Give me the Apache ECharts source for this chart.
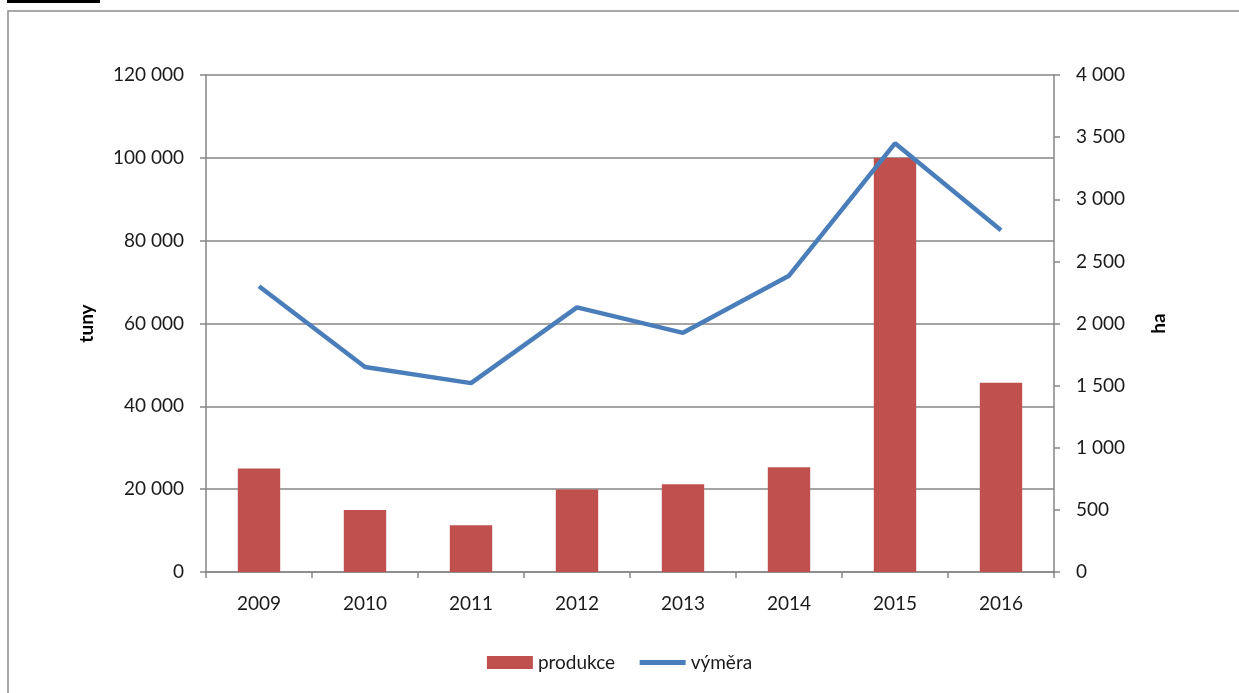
<!DOCTYPE html>
<html>
<head>
<meta charset="utf-8">
<script src="https://cdn.jsdelivr.net/npm/echarts@6/dist/echarts.min.js"></script>
<style>
  html, body { margin: 0; padding: 0; background: #fff; }
  #chart { width: 1239px; height: 693px; }
</style>
</head>
<body>
<div id="chart"></div>
<script>
// data
const years = ['2009', '2010', '2011', '2012', '2013', '2014', '2015', '2016']
const produkce = [25000, 15000, 11300, 19900, 21200, 25300, 100000, 45700]   // tuny
const vymera = [2300, 1650, 1520, 2130, 1925, 2385, 3450, 2750]             // ha

const fmt = v => String(v).replace(/\B(?=(\d{3})+(?!\d))/g, ' ')
const font = 'Lato, "Open Sans", sans-serif'
const gray = '#868686'
const txt = '#1a1a1a'

const chart = echarts.init(document.getElementById('chart'))

chart.setOption({
  animation: false,
  textStyle: { fontFamily: font },
  graphic: [
    { type: 'rect', shape: { x: 8, y: 11, width: 1240, height: 700 },
      style: { fill: 'none', stroke: '#8c8c8c', lineWidth: 1.5 } },
    { type: 'rect', shape: { x: 7, y: 0, width: 93, height: 3 },
      style: { fill: '#000' } }
  ],
  grid: { left: 206, right: 185, top: 75, bottom: 121 },
  legend: {
    bottom: 16,
    left: 'center',
    itemGap: 22,
    itemWidth: 46,
    itemHeight: 13,
    textStyle: { fontSize: 19, color: txt, fontFamily: font },
    data: [
      { name: 'produkce', icon: 'rect' },
      { name: 'výměra', itemStyle: { opacity: 0 }, lineStyle: { width: 5, color: '#4A7EBB' } }
    ]
  },
  xAxis: {
    type: 'category',
    data: years,
    boundaryGap: true,
    axisLine: { lineStyle: { color: gray, width: 1.5 } },
    axisTick: { show: true, length: 6, lineStyle: { color: gray, width: 1.5 } },
    axisLabel: { fontSize: 19, color: txt, margin: 22 }
  },
  yAxis: [
    {
      type: 'value',
      min: 0, max: 120000, interval: 20000,
      name: 'tuny',
      nameLocation: 'middle',
      nameGap: 110,
      nameRotate: 90,
      nameTextStyle: { fontSize: 19, fontWeight: 'bold', color: '#000' },
      axisLine: { show: true, lineStyle: { color: gray, width: 1.5 } },
      axisTick: { show: true, length: 6, lineStyle: { color: gray, width: 1.5 } },
      axisLabel: { fontSize: 19, color: txt, margin: 22, formatter: fmt },
      splitLine: { lineStyle: { color: gray, width: 1.5 } }
    },
    {
      type: 'value',
      min: 0, max: 4000, interval: 500,
      name: 'ha',
      nameLocation: 'middle',
      nameGap: 95,
      nameRotate: 90,
      nameTextStyle: { fontSize: 19, fontWeight: 'bold', color: '#000' },
      position: 'right',
      axisLine: { show: true, lineStyle: { color: gray, width: 1.5 } },
      axisTick: { show: true, length: 6, lineStyle: { color: gray, width: 1.5 } },
      axisLabel: { fontSize: 19, color: txt, margin: 22, formatter: fmt },
      splitLine: { show: false }
    }
  ],
  series: [
    {
      name: 'produkce',
      type: 'bar',
      yAxisIndex: 0,
      data: produkce,
      barWidth: '40%',
      itemStyle: { color: '#C0504D' }
    },
    {
      name: 'výměra',
      type: 'line',
      yAxisIndex: 1,
      data: vymera,
      symbol: 'none',
      lineStyle: { color: '#4A7EBB', width: 4.5 },
      itemStyle: { color: '#4A7EBB' }
    }
  ]
})

window.addEventListener('resize', () => {
  chart.resize()
})
</script>
</body>
</html>
